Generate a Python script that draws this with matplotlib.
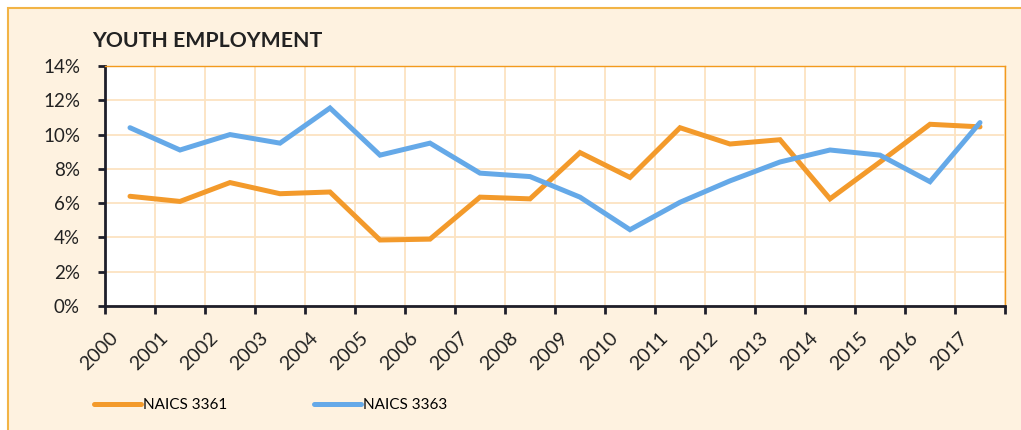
import matplotlib
matplotlib.use("Agg")
import matplotlib.pyplot as plt
import matplotlib.transforms as mtransforms
from matplotlib.patches import Rectangle
import numpy as np

plt.rcParams["font.family"] = ["Lato", "DejaVu Sans"]

years = [str(y) for y in range(2000, 2018)]
naics_3361 = [6.4, 6.1, 7.2, 6.55, 6.65, 3.85, 3.9, 6.35, 6.25, 8.95,
              7.5, 10.4, 9.45, 9.7, 6.25, 8.4, 10.6, 10.45]
naics_3363 = [10.4, 9.1, 10.0, 9.5, 11.55, 8.8, 9.5, 7.75, 7.55, 6.35,
              4.45, 6.05, 7.3, 8.4, 9.1, 8.8, 7.25, 10.7]
y_ticks = [0, 2, 4, 6, 8, 10, 12, 14]

orange = "#F39A2B"
blue = "#65A9E8"
cream = "#FEF2E0"
grid_col = "#FCE3C2"
dark = "#1E1E2A"

fig = plt.figure(figsize=(10.21, 4.30), dpi=100, facecolor="white")

# outer panel
fig.patches.append(Rectangle((8 / 1021, -0.05), 1.1, 1 - 8 / 430 + 0.05,
                             transform=fig.transFigure, facecolor=cream,
                             edgecolor="#F2B446", linewidth=1.5, zorder=-10))

ax = fig.add_axes([105 / 1021, 1 - 306 / 430, 900 / 1021, 240 / 430])
ax.set_facecolor("white")

x = np.arange(len(years))
ax.plot(x, naics_3361, color=orange, linewidth=3.6, label="NAICS 3361",
        solid_capstyle="round", solid_joinstyle="miter", zorder=3)
ax.plot(x, naics_3363, color=blue, linewidth=3.6, label="NAICS 3363",
        solid_capstyle="round", solid_joinstyle="miter", zorder=3)

ax.set_xlim(-0.5, len(years) - 0.5)
ax.set_ylim(0, 14)
ax.set_yticks(y_ticks)
ax.set_yticklabels([f"{v}%" for v in y_ticks])

ax.set_xticks(np.arange(-0.5, len(years), 1.0))
ax.set_xticklabels([])

# rotated year labels, end of text near the category centre
base = mtransforms.blended_transform_factory(ax.transData, ax.transAxes)
shift = mtransforms.ScaledTranslation(-15 / 100, -29 / 100, fig.dpi_scale_trans)
for i, yr in enumerate(years):
    ax.text(i, 0, yr, transform=base + shift, rotation=45, ha="right",
            va="center", rotation_mode="anchor", fontsize=14,
            color="#222222", clip_on=False)

ax.tick_params(axis="x", which="major", direction="out", length=6, width=2,
               color=dark)
ax.tick_params(axis="y", direction="out", length=5, width=2, color=dark,
               labelsize=13.5, labelcolor="#222222", pad=13)

ax.grid(True, which="major", color=grid_col, linewidth=1.3, zorder=0)
ax.set_axisbelow(True)

for side in ["left", "bottom"]:
    ax.spines[side].set_color(dark)
    ax.spines[side].set_linewidth(2)
for side in ["top", "right"]:
    ax.spines[side].set_color("#F29A1E")
    ax.spines[side].set_linewidth(1)

fig.text(92 / 1021, 1 - 41 / 430, "YOUTH EMPLOYMENT", fontsize=15.3,
         fontweight="bold", color="#222222", va="center", ha="left")

fig.legend(loc="center left", bbox_to_anchor=(80 / 1021, 1 - 405 / 430),
           ncol=2, frameon=False, fontsize=11, handlelength=3.1,
           handletextpad=0.1, columnspacing=5.7)

fig.savefig("out.png", dpi=100, facecolor="white")
